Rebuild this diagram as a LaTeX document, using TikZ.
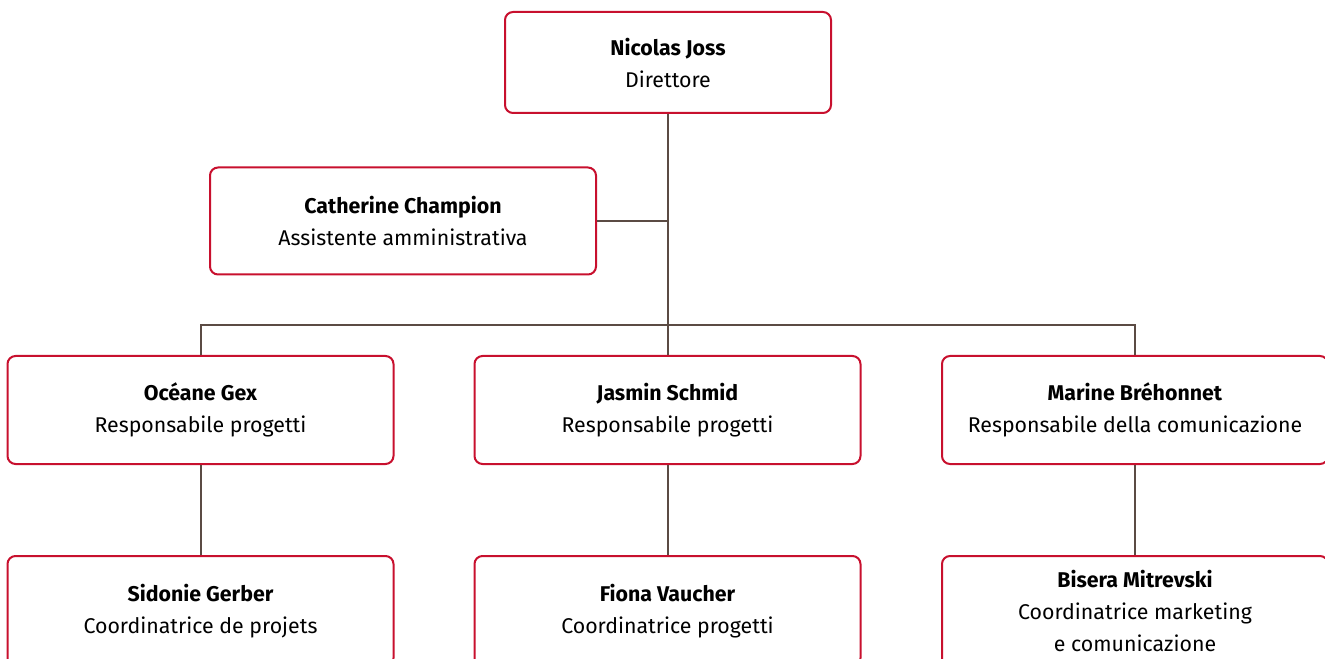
\documentclass[tikz,border=0pt]{standalone}
\usepackage{fontspec}
\setmainfont{Fira Sans}
\definecolor{boxred}{HTML}{C8102E}
\definecolor{conncol}{HTML}{5B4B44}
\begin{document}
\begin{tikzpicture}[x=0.75pt,y=-0.75pt,
  person/.style={draw=boxred, line width=1.5pt, rounded corners=6pt, fill=white,
    align=center, minimum width=289.5pt, minimum height=81pt, inner sep=0pt,
    font=\fontsize{16}{24}\selectfont},
  conn/.style={draw=conncol, line width=1.5pt}]
\useasboundingbox (0,0) rectangle (1325,659);
\clip (0,0) rectangle (1325,659);
\coordinate (busy) at (0,325);
\node[person, minimum width=244.5pt, minimum height=75.75pt] (nj) at (668,62.5) {\textbf{Nicolas Joss}\\Direttore};
\node[person, minimum height=80.25pt] (cc) at (403,221) {\textbf{Catherine Champion}\\Assistente amministrativa};
\node[person] (oc) at (200.5,410) {\textbf{Océane Gex}\\Responsabile progetti};
\node[person] (js) at (667.5,410) {\textbf{Jasmin Schmid}\\Responsabile progetti};
\node[person] (mb) at (1135,410) {\textbf{Marine Bréhonnet}\\Responsabile della comunicazione};
\node[person, minimum height=82.5pt] (sg) at (200.5,611) {\textbf{Sidonie Gerber}\\Coordinatrice de projets};
\node[person, minimum height=82.5pt] (fv) at (667.5,611) {\textbf{Fiona Vaucher}\\Coordinatrice progetti};
\node[person, minimum height=82.5pt] (bm) at (1135,611) {\textbf{Bisera Mitrevski}\\Coordinatrice marketing\\e comunicazione};
\draw[conn] (nj.south) -- (nj.south |- js.north);
\draw[conn] (cc.east) -- (cc.east -| nj.south);
\draw[conn] (oc.north) -- (oc.north |- busy) -- (mb.north |- busy) -- (mb.north);
\draw[conn] (oc.south) -- (sg.north);
\draw[conn] (js.south) -- (fv.north);
\draw[conn] (mb.south) -- (bm.north);
\end{tikzpicture}
\end{document}
